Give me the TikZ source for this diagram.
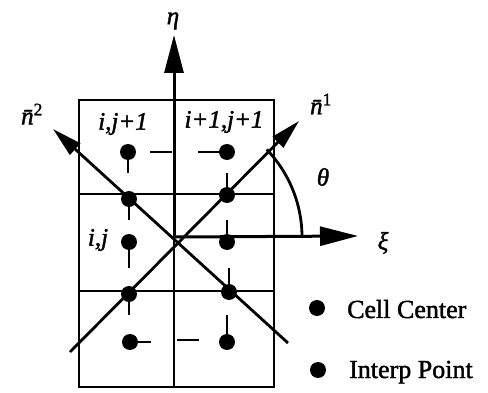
\documentclass[tikz,border=0pt]{standalone}
\usepackage{fontspec}
\setmainfont{Liberation Serif}
\newfontfamily\heavyfont{Liberation Serif}[FakeBold=1.6]
\usetikzlibrary{arrows.meta}
\begin{document}
\begin{tikzpicture}[x=1pt,y=-1pt,
  gridline/.style={line width=2.8pt},
  axisarrow/.style={line width=3pt, -{Triangle[length=38pt,width=19pt]}},
  diagarrow/.style={line width=2.8pt, -{Triangle[length=30pt,width=15pt]}},
  tickmark/.style={line width=2.4pt},
  dotnode/.style={circle, fill=black, inner sep=0pt, minimum size=16pt},
  lab/.style={font=\heavyfont\fontsize{25}{27}\selectfont\itshape, inner sep=0pt},
  leg/.style={font=\heavyfont\fontsize{26}{28}\selectfont, inner sep=0pt, anchor=base west}]
\useasboundingbox (0,0) rectangle (488,393);
% grid
\coordinate (TL) at (79,100);
\coordinate (BR) at (274,387);
\coordinate (mt) at (174,100);
\coordinate (mb) at (174,387);
\coordinate (r1l) at (79,194);
\coordinate (r1r) at (274,194);
\coordinate (r2l) at (79,291);
\coordinate (r2r) at (274,291);
\draw[gridline] (TL) rectangle (BR);
\draw[gridline] (mb) -- (mt);
\draw[gridline] (r1l) -- (r1r);
\draw[gridline] (r2l) -- (r2r);
% axes
\coordinate (O) at (174,237);
\coordinate (etaT) at (174,35);
\coordinate (xiT) at (358,236);
\draw[axisarrow] (O) -- (etaT);
\draw[axisarrow] (O) -- (xiT);
% diagonals
\coordinate (d1s) at (70,352);
\coordinate (d1t) at (299,121);
\coordinate (d2s) at (288,343);
\coordinate (d2t) at (53,129);
\draw[diagarrow] (d1s) -- (d1t);
\draw[diagarrow] (d2s) -- (d2t);
% theta arc
\coordinate (C) at (176,237);
\draw[line width=2.8pt] (C) ++(126pt,0pt) arc[start angle=0, end angle=44, radius=126pt];
% ticks
\coordinate (cA) at (128,152);  \coordinate (tA) at (128,173);
\coordinate (cB) at (227,152);  \coordinate (tB) at (198,152);
\coordinate (cC) at (129,199);  \coordinate (tC) at (129,220);
\coordinate (cD) at (227,195);  \coordinate (tD) at (227,173);
\coordinate (cE) at (129,242);  \coordinate (tE) at (129,268);
\coordinate (cF) at (227,242);  \coordinate (tF) at (227,220);
\coordinate (cG) at (129,294);  \coordinate (tG) at (129,315);
\coordinate (cH) at (229,292);  \coordinate (tH) at (229,268);
\coordinate (cI) at (130,342);  \coordinate (tI) at (151,342);
\coordinate (cJ) at (227,342);  \coordinate (tJ) at (227,315);
\coordinate (fa1) at (150,152); \coordinate (fa2) at (172,152);
\coordinate (fb1) at (177,340); \coordinate (fb2) at (199,340);
\foreach \p in {A,B,C,D,E,F,G,H,I,J}{
  \draw[tickmark] (c\p) -- (t\p);
  \node[dotnode] (dot\p) at (c\p) {};
}
\draw[tickmark] (fa1) -- (fa2);
\draw[tickmark] (fb1) -- (fb2);
% labels
\node[lab] (eta) at (173,21) {η};
\node[lab] (xi) at (383,243) {ξ};
\node[lab] (theta) at (323,177) {θ};
\node[lab] (n1) at (321,104) {\={n}\textsuperscript{\upshape 1}};
\node[lab] (n2) at (32,114) {\={n}\textsuperscript{\upshape 2}};
\node[lab] (lij1) at (123,124) {i,j+1};
\node[lab] (li1j1) at (224,122) {i+1,j+1};
\node[lab] (lij) at (98,240) {i,j};
% legend
\node[dotnode] (legA) at (317,308) {};
\node[dotnode] (legB) at (318,370) {};
\node[leg] (legAt) at (347,318) {Cell Center};
\node[leg] (legBt) at (349,378) {Interp Point};
\end{tikzpicture}
\end{document}
